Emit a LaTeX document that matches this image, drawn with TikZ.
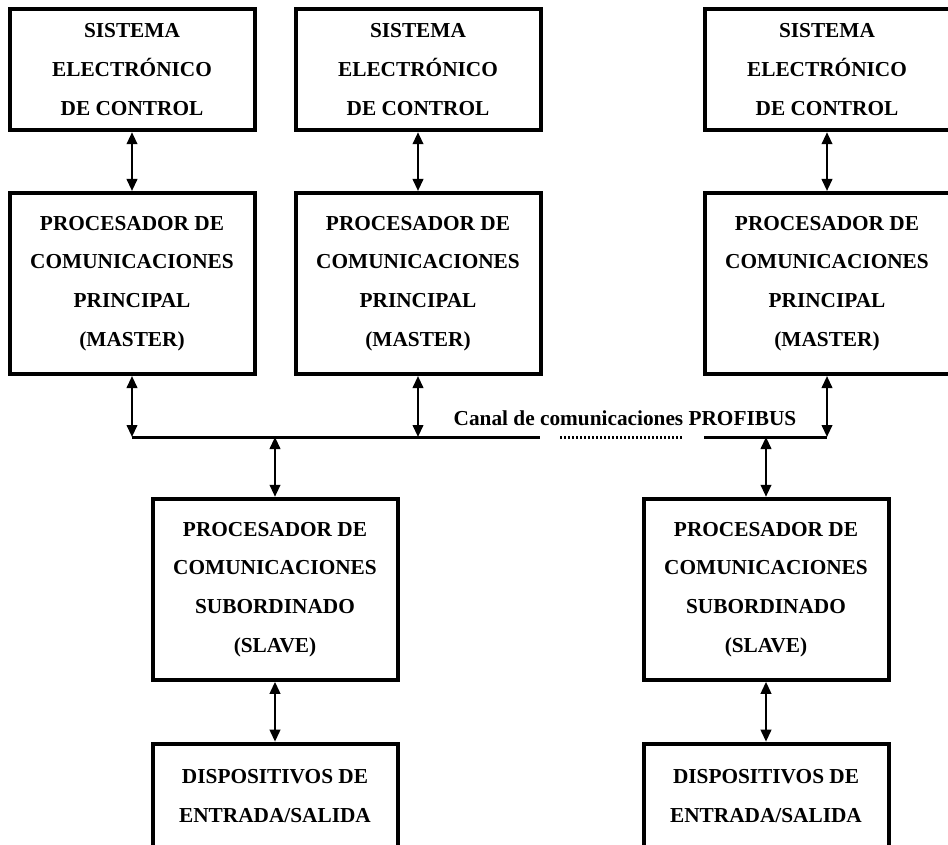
\documentclass[tikz,border=0pt]{standalone}
\usepackage{fontspec}
\setmainfont{Liberation Serif}
\usetikzlibrary{arrows.meta}
\begin{document}
\begin{tikzpicture}[x=1pt,y=-1pt,
  blk/.style={draw=black,line width=4pt,rectangle,inner sep=0pt,
    minimum width=245pt,align=center,
    font=\fontsize{21.3}{38.7}\selectfont\bfseries},
  link/.style={line width=2.3pt,{Triangle[length=12pt,width=10.5pt]}-{Triangle[length=12pt,width=10.5pt]}},
  busline/.style={line width=3pt},
  busdots/.style={line width=3pt,dash pattern=on 2pt off 2pt}
]
\useasboundingbox (0,0) rectangle (948,845);
\fill[white] (0,0) rectangle (948,845);

% control systems
\node[blk,minimum height=121pt] (t1) at (132,69.7) {SISTEMA\\ELECTRÓNICO\\DE CONTROL};
\node[blk,minimum height=121pt] (t2) at (418,69.7) {SISTEMA\\ELECTRÓNICO\\DE CONTROL};
\node[blk,minimum height=121pt] (t3) at (827,69.7) {SISTEMA\\ELECTRÓNICO\\DE CONTROL};

% master processors
\node[blk,minimum height=181pt] (m1) at (132,283.5) {PROCESADOR DE\\COMUNICACIONES\\PRINCIPAL\\(MASTER)};
\node[blk,minimum height=181pt] (m2) at (418,283.5) {PROCESADOR DE\\COMUNICACIONES\\PRINCIPAL\\(MASTER)};
\node[blk,minimum height=181pt] (m3) at (827,283.5) {PROCESADOR DE\\COMUNICACIONES\\PRINCIPAL\\(MASTER)};

% slave processors
\node[blk,minimum height=181pt] (s1) at (275,589.3) {PROCESADOR DE\\COMUNICACIONES\\SUBORDINADO\\(SLAVE)};
\node[blk,minimum height=181pt] (s2) at (766,589.3) {PROCESADOR DE\\COMUNICACIONES\\SUBORDINADO\\(SLAVE)};

% I/O devices
\node[blk,minimum height=105pt] (d1) at (275,796.2) {DISPOSITIVOS DE\\ENTRADA/SALIDA};
\node[blk,minimum height=105pt] (d2) at (766,796.2) {DISPOSITIVOS DE\\ENTRADA/SALIDA};

% bus taps
\coordinate (b1) at (132,437);
\coordinate (b2) at (418,437);
\coordinate (b3) at (827,437);
\coordinate (b4) at (275,437);
\coordinate (b5) at (766,437);
\coordinate (g1) at (540,437);
\coordinate (g2) at (560,437);
\coordinate (g3) at (683,437);
\coordinate (g4) at (704,437);

% PROFIBUS channel
\draw[busline] (b1) -- (g1);
\draw[busdots] (g2) -- (g3);
\draw[busline] (g4) -- (b3);
\node[anchor=base,inner sep=0pt,font=\fontsize{21.3}{25}\selectfont\bfseries] (lbl) at (625,425) {Canal de comunicaciones PROFIBUS};

% connections
\draw[link] (t1.south) -- (m1.north);
\draw[link] (t2.south) -- (m2.north);
\draw[link] (t3.south) -- (m3.north);
\draw[link] (m1.south) -- (b1);
\draw[link] (m2.south) -- (b2);
\draw[link] (m3.south) -- (b3);
\draw[link] (b4) -- (s1.north);
\draw[link] (b5) -- (s2.north);
\draw[link] (s1.south) -- (d1.north);
\draw[link] (s2.south) -- (d2.north);
\end{tikzpicture}
\end{document}
